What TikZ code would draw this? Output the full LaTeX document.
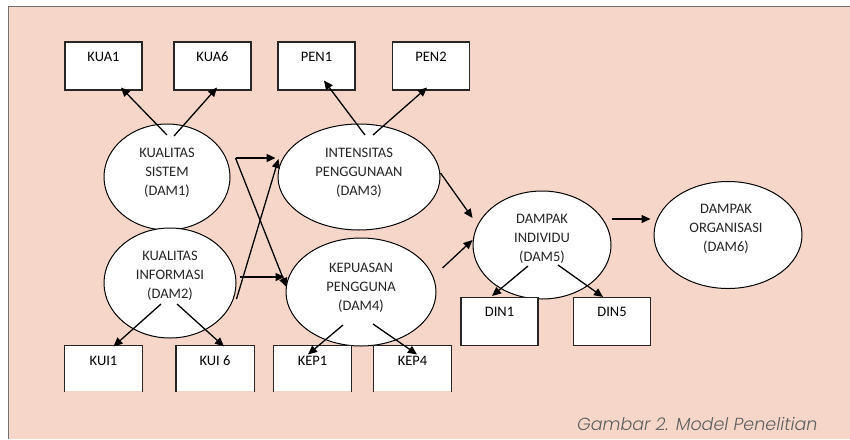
\documentclass[tikz,border=0pt]{standalone}
\usepackage{fontspec}
\setmainfont{Carlito}
\newfontfamily\capfont{Poppins}[UprightFont=* Light,ItalicFont=* Light Italic]
\usetikzlibrary{shapes.geometric,calc,arrows.meta}
\definecolor{bgpink}{RGB}{246,214,201}
\definecolor{capgray}{RGB}{95,95,95}

\begin{document}
\begin{tikzpicture}[x=1pt,y=-1pt,
  ind/.style={draw=black!85,line width=1.1pt,fill=white,minimum width=77pt,
    inner sep=0pt,text height=19pt,text depth=29pt,font=\fontsize{14.5}{19}\selectfont},
  openind/.style={ind,draw=none,text depth=26pt},
  lat/.style={ellipse,draw,fill=white,line width=1pt,inner sep=0pt},
  lattext/.style={align=center,text=black!85,font=\fontsize{14.5}{19}\selectfont},
  arr/.style={-{Triangle[length=9pt,width=8pt]},line width=1.3pt}]
\useasboundingbox (0,0) rectangle (850,439);
\fill[bgpink] (8,6) rectangle (850,439);
\draw[black!55,line width=0.8pt] (8,439) -- (8,6) -- (850,6);

\node[ind] (kua1) at (103.5,66) {KUA1};
\node[ind] (kua6) at (212.5,66) {KUA6};
\node[ind] (pen1) at (316.5,66) {PEN1};
\node[ind] (pen2) at (431,66) {PEN2};

\node[lat,minimum width=126pt,minimum height=106pt] (dam1) at (167,177) {};
\node[lattext] (dam1t) at (167,173) {KUALITAS\\SISTEM\\(DAM1)};
\node[lat,minimum width=162pt,minimum height=106pt] (dam3) at (359,177) {};
\node[lattext] (dam3t) at (359,173) {INTENSITAS\\PENGGUNAAN\\(DAM3)};
\node[lat,minimum width=132pt,minimum height=110pt] (dam2) at (170,283) {};
\node[lattext] (dam2t) at (170,276) {KUALITAS\\INFORMASI\\(DAM2)};
\node[lat,minimum width=150pt,minimum height=108pt] (dam4) at (361,292) {};
\node[lattext] (dam4t) at (361,288) {KEPUASAN\\PENGGUNA\\(DAM4)};
\node[lat,minimum width=138pt,minimum height=108pt] (dam5) at (542,245) {};
\node[lattext] (dam5t) at (542,239) {DAMPAK\\INDIVIDU\\(DAM5)};
\node[lat,minimum width=148pt,minimum height=107pt] (dam6) at (728,235) {};
\node[lattext] (dam6t) at (726,229) {DAMPAK\\ORGANISASI\\(DAM6)};

\node[openind] (kui1) at (103.5,368.5) {KUI1};
\node[openind] (kui6) at (215,368.5) {KUI 6};
\node[openind] (kep1) at (312.5,368.5) {KEP1};
\node[openind] (kep4) at (412.5,368.5) {KEP4};
\foreach \b in {kui1,kui6,kep1,kep4}
  \draw[black!85,line width=1.1pt] (\b.south west) |- (\b.north east) -- (\b.south east);
\node[ind] (din1) at (499.5,321.5) {DIN1};
\node[ind] (din5) at (612,321.5) {DIN5};

\draw[arr] ($(dam1)+(0,-42)$) -- ($(kua1.south)+(17.5,-3)$);
\draw[arr] ($(dam1)+(7,-41)$) -- ($(kua6.south)+(4.5,-3)$);
\draw[arr] ($(dam3)+(6,-42)$) -- ($(pen1.south)+(7.5,-10)$);
\draw[arr] ($(dam3)+(14,-42)$) -- ($(pen2.south)+(-4,-3)$);
\draw[arr] ($(dam2)+(-9,21)$) -- ($(kui1.north)+(10,1)$);
\draw[arr] ($(dam2)+(7,21)$) -- ($(kui6.north)+(9,1)$);
\draw[arr] ($(dam4)+(-18,33)$) -- ($(kep1.north)+(-4.5,9)$);
\draw[arr] ($(dam4)+(12,32)$) -- ($(kep4.north)+(4.5,9)$);
\draw[arr] ($(dam5)+(-14,21)$) -- ($(din1.north)+(-7.5,-1)$);
\draw[arr] ($(dam5)+(16,20)$) -- ($(din5.north)+(-9,0)$);

\draw[arr] ($(dam1.east)+(5,-19)$) -- ($(dam3.west)+(-2,-19)$);
\draw[arr] ($(dam1.east)+(5,-19)$) -- ($(dam4.west)+(1,-5)$);
\draw[arr] ($(dam2.east)+(3,-6)$) -- ($(dam4.west)+(-1,-15)$);
\draw[arr] ($(dam2.east)+(0,16)$) -- ($(dam3.west)+(1,-18)$);
\draw[arr] ($(dam3.east)+(0,-4)$) -- ($(dam5.west)+(0,-27)$);
\draw[arr] ($(dam4.east)+(6,-24)$) -- ($(dam5.west)+(0,-5)$);
\draw[arr] ($(dam5.east)+(0,-26)$) -- ($(dam6.west)+(-3,-16)$);

\node[anchor=base east,text=capgray,font=\capfont\itshape\fontsize{17.5}{17.5}\selectfont] (cap) at (821,430) {Gambar 2. Model Penelitian};
\end{tikzpicture}
\end{document}
